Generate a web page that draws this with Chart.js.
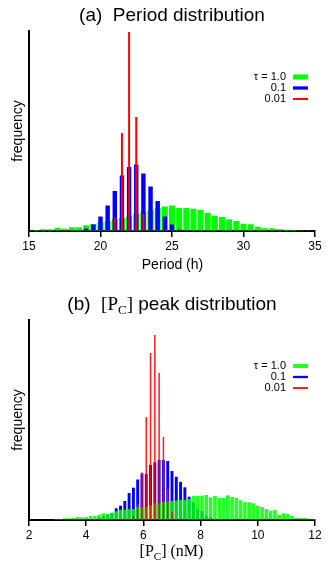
<!DOCTYPE html>
<html><head><meta charset="utf-8">
<script src="https://cdn.jsdelivr.net/npm/chart.js@4/dist/chart.umd.min.js"></script>
<style>
html,body{margin:0;padding:0;background:#fff;width:327px;height:561px;overflow:hidden}
#wa{position:absolute;left:0;top:0;width:327px;height:280px}
#wb{position:absolute;left:0;top:280px;width:327px;height:281px}
canvas{display:block}
</style></head><body>
<div id="wa"><canvas id="ca" width="327" height="280"></canvas></div>
<div id="wb"><canvas id="cb" width="327" height="281"></canvas></div>
<script>
// ---------- Panel (a): period distribution ----------
const periodBins = [15,15.5,16,16.5,17,17.5,18,18.5,19,19.5,20,20.5,21,21.5,22,22.5,23,23.5,24,24.5,25,25.5,26,26.5,27,27.5,28,28.5,29,29.5,30,30.5,31,31.5,32,32.5,33,33.5,34,34.5];
const periodTau1 = [0.7,1,1.7,1.7,3,2.3,3.7,3.7,5.7,7,8.7,10,12,13,14.5,17,19,21,23,24.5,25.5,23,23,22.3,21,18.3,15.3,14,11.7,10,7.3,6.7,4.3,2.7,2.7,2,1.3,1,0.7,0.3];
const periodTau01 = [null,null,null,null,null,null,null,null,2.5,6.5,14.5,25.5,40,55.5,64,66.5,57.5,44.5,30,14.5,6.5,1.5,0.7,null,null,null,null,null,null,null,null,null,null,null,null,null,null,null,null,null];
const periodTau001 = [null,null,null,null,null,null,null,null,null,null,null,null,13.5,98,199,114,17,null,null,null,null,null,null,null,null,null,null,null,null,null,null,null,null,null,null,null,null,null,null,null];
const periodTicks = [15,20,25,30,35];

// ---------- Panel (b): [PC] peak distribution ----------
const pcBins = [2.95,3.1,3.25,3.4,3.55,3.7,3.85,4.0,4.15,4.3,4.45,4.6,4.75,4.9,5.05,5.2,5.35,5.5,5.65,5.8,5.95,6.1,6.25,6.4,6.55,6.7,6.85,7.0,7.15,7.3,7.45,7.6,7.75,7.9,8.05,8.2,8.35,8.5,8.65,8.8,8.95,9.1,9.25,9.4,9.55,9.7,9.85,10.0,10.15,10.3,10.45,10.6,10.75,10.9,11.05,11.2,11.35,11.5,11.65,11.8,11.95];
const pcTau1 = [1,1,1.7,1.7,2,3,2.7,3,4,4,5.3,6.7,6,7.3,8.7,10,10.3,10.7,11,13,12.7,13,14.7,16.7,16.7,18.3,18.7,19,19.5,20,20,21,24,24,24.3,25,22.7,24,22,22,24.7,23,22,19.7,18,17.7,16.7,14.3,13,11,9.3,10,5.3,6.7,6,4,2.3,2,2,1.3,1];
const pcTau01 = [null,null,null,null,null,null,null,null,0.5,1,2.7,4,5,6.7,11.7,14.3,19,27,32.3,40.5,46.5,46,55,57.7,60,60,59,49,43.3,38.2,32.7,23.3,17.7,11,9,4.3,3,1,null,null,null,null,null,null,null,null,null,null,null,null,null,null,null,null,null,null,null,null,null,null,null];
const pcTau001 = [null,null,null,null,null,null,null,null,null,null,null,null,null,null,null,null,null,null,4,16.5,47.5,103,167,185,147,83,31,8,null,null,null,null,null,null,null,null,null,null,null,null,null,null,null,null,null,null,null,null,null,null,null,null,null,null,null,null,null,null,null,null,null];
const pcTicks = [2,4,6,8,10,12];

const legendLabels = ['\u03C4 = 1.0', '0.1', '0.01'];

const SANS = '"Liberation Sans", Arial, Helvetica, sans-serif';
const SERIF = '"Liberation Serif", "Times New Roman", serif';

function drawRich(ctx, segs, cx, y) {
  let w = 0;
  segs.forEach(s => { ctx.font = s.f; w += ctx.measureText(s.t).width; });
  let x = cx - w / 2;
  ctx.textAlign = 'left';
  ctx.textBaseline = 'alphabetic';
  segs.forEach(s => { ctx.font = s.f; ctx.fillText(s.t, x, y + (s.dy || 0)); x += ctx.measureText(s.t).width; });
}

function makeDecor(cfg) {
  return {
    id: 'decor',
    afterDraw(chart) {
      const ctx = chart.ctx;
      ctx.save();
      ctx.fillStyle = '#000';
      cfg.texts.forEach(tx => drawRich(ctx, tx.segs, tx.cx, tx.y));
      const dsets = chart.data.datasets;
      legendLabels.forEach((lab, i) => {
        const y = cfg.legendY[i];
        ctx.font = '11px ' + SANS;
        ctx.textAlign = 'right';
        ctx.textBaseline = 'middle';
        ctx.fillStyle = '#000';
        ctx.fillText(lab, 286, y);
        ctx.strokeStyle = dsets[i].backgroundColor;
        ctx.lineWidth = cfg.legendW[i];
        ctx.beginPath();
        ctx.moveTo(293, y);
        ctx.lineTo(308, y);
        ctx.stroke();
      });
      ctx.restore();
    }
  };
}

function ds(label, bins, vals, color, pct, order) {
  return {
    label,
    data: bins.map((x, i) => ({ x, y: vals[i] })).filter(p => p.y != null),
    backgroundColor: color,
    borderWidth: 0,
    barPercentage: pct,
    categoryPercentage: 1,
    grouped: false,
    order,
    clip: false
  };
}

function makeOptions(xmin, xmax, ticksArr, ymax, padTop, padBottom) {
  return {
    responsive: false,
    animation: false,
    events: [],
    layout: { padding: { left: 4.2, right: 12, top: padTop, bottom: padBottom } },
    plugins: { legend: { display: false }, tooltip: { enabled: false }, title: { display: false } },
    scales: {
      x: {
        type: 'linear', min: xmin, max: xmax, z: 1, offset: false,
        afterBuildTicks: s => { s.ticks = ticksArr.map(v => ({ value: v })); },
        afterFit: s => { s.height = 30; },
        grid: { display: true, offset: false, drawOnChartArea: false, drawTicks: true, tickLength: 6, color: '#000', lineWidth: 1.5 },
        border: { display: true, color: '#000', width: 2 },
        ticks: { color: '#000', font: { family: SANS, size: 12 }, padding: 2, maxRotation: 0, autoSkip: false }
      },
      y: {
        min: 0, max: ymax, z: 1,
        ticks: { display: false },
        grid: { display: true, drawOnChartArea: false, drawTicks: false },
        border: { display: true, color: '#000', width: 2 },
        title: { display: true, text: 'frequency', color: '#000', font: { family: SANS, size: 14 }, padding: { top: 6, bottom: 2 } }
      }
    }
  };
}

new Chart(document.getElementById('ca'), {
  type: 'bar',
  data: {
    datasets: [
      ds(legendLabels[0], periodBins, periodTau1, '#00ff00', 0.84, 3),
      ds(legendLabels[1], periodBins, periodTau01, '#0000ff', 0.62, 2),
      ds(legendLabels[2], periodBins, periodTau001, '#ff0000', 0.28, 1)
    ]
  },
  options: makeOptions(15, 35, periodTicks, 200, 31, 19),
  plugins: [makeDecor({
    texts: [
      { cx: 172, y: 21, segs: [{ t: '(a)  Period distribution', f: '19px ' + SANS }] },
      { cx: 172.5, y: 269, segs: [{ t: 'Period (h)', f: '14px ' + SANS }] }
    ],
    legendY: [77, 88, 99],
    legendW: [5, 3.3, 2]
  })]
});

new Chart(document.getElementById('cb'), {
  type: 'bar',
  data: {
    datasets: [
      ds(legendLabels[0], pcBins, pcTau1, 'rgba(0,255,0,0.85)', 0.84, 2),
      ds(legendLabels[1], pcBins, pcTau01, '#0000ff', 0.68, 3),
      ds(legendLabels[2], pcBins, pcTau001, 'rgba(255,0,0,0.88)', 0.36, 1)
    ]
  },
  options: makeOptions(2, 12, pcTicks, 200, 40, 11),
  plugins: [makeDecor({
    texts: [
      { cx: 172, y: 30, segs: [
        { t: '(b)  ', f: '19px ' + SANS },
        { t: '[P', f: '19px ' + SERIF },
        { t: 'C', f: '13px ' + SERIF, dy: 4 },
        { t: ']', f: '19px ' + SERIF },
        { t: ' peak distribution', f: '19px ' + SANS }
      ] },
      { cx: 171.5, y: 276, segs: [
        { t: '[P', f: '16px ' + SERIF },
        { t: 'C', f: '11px ' + SERIF, dy: 3.5 },
        { t: '] (nM)', f: '16px ' + SERIF }
      ] }
    ],
    legendY: [86, 97, 108],
    legendW: [4, 2.3, 2]
  })]
});
</script>
</body></html>
